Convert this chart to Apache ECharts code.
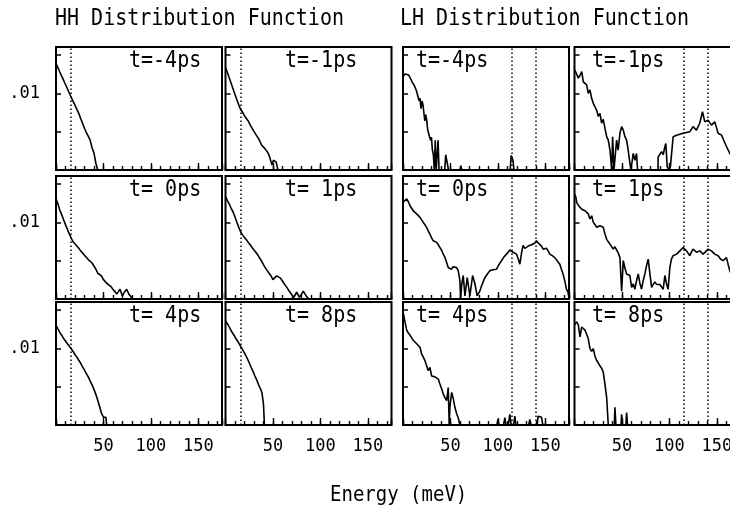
<!DOCTYPE html>
<html><head><meta charset="utf-8">
<script src="https://cdn.jsdelivr.net/npm/echarts@6/dist/echarts.min.js"></script>
<style>html,body{margin:0;padding:0;background:#fff}#c{width:730px;height:512px}</style>
</head><body><div id="c"></div>
<script>
// ---- data: [energy (meV), distribution function] ----
const hhMinus4 = [[0,0.060],[2,0.047],[4,0.036],[6,0.028],[8,0.022],[10,0.017],[12,0.0132],[14,0.0102],[16,0.0079],[18,0.0062],[20,0.0049],[22,0.0038],[24,0.0030],[26,0.0022],[28,0.00166],[30,0.00123],[32,0.00095],[34,0.00076],[36,0.00060],[38,0.00038],[40,0.00028],[42,0.00015],[44,0.0001]];
const hhMinus1 = [[0,0.048],[2,0.035],[4,0.025],[6,0.018],[8,0.0129],[10,0.0093],[12,0.0068],[14,0.0050],[16,0.0038],[18,0.0032],[20,0.0026],[22,0.0022],[24,0.0019],[26,0.0015],[28,0.00123],[30,0.00102],[32,0.00085],[34,0.00071],[36,0.00058],[38,0.00045],[40,0.00040],[42,0.00035],[44,0.00030],[46,0.00024],[47,0.00022],[49,0.000135],[50.5,0.00018],[52,0.000166],[53.5,0.00016],[55,0.000107],[56,0.0001]];
const hhZero = [[0,0.042],[2,0.030],[4,0.021],[6,0.0158],[8,0.0117],[10,0.0087],[12,0.0066],[14,0.0050],[16,0.0039],[18,0.0031],[20,0.0028],[22,0.0024],[24,0.0021],[26,0.0018],[28,0.00158],[30,0.00138],[32,0.00123],[34,0.00107],[36,0.00098],[38,0.00087],[40,0.00078],[42,0.00060],[44,0.00047],[46,0.00042],[48,0.00040],[50,0.00032],[52,0.00030],[54,0.00025],[56,0.00023],[58,0.00021],[60,0.00018],[62,0.000158],[64,0.000135],[66,0.000158],[67.5,0.00018],[70,0.00012],[72,0.00015],[74.5,0.00018],[77,0.000132],[78,0.00012],[81,0.0001]];
const hhPlus1 = [[0,0.047],[2,0.037],[4,0.030],[6,0.023],[8,0.0186],[10,0.0138],[12,0.0100],[14,0.0074],[16,0.0056],[18,0.0047],[20,0.0040],[22,0.0035],[24,0.0030],[26,0.0026],[28,0.0022],[30,0.0019],[32,0.00166],[34,0.00141],[36,0.00117],[38,0.00098],[40,0.00079],[42,0.00065],[44,0.00055],[46,0.00049],[48,0.00040],[50,0.00032],[52,0.00035],[54,0.00040],[56,0.00041],[58,0.00035],[61,0.00027],[64,0.00021],[68,0.00015],[72,0.00011],[75,0.00015],[78,0.00011],[82,0.00016],[85.5,0.000115],[88,0.0001]];
const hhPlus4 = [[0,0.040],[2,0.032],[4,0.026],[6,0.022],[8,0.018],[10,0.0155],[12,0.0132],[14,0.0115],[16,0.0098],[18,0.0083],[20,0.0069],[22,0.0059],[24,0.0049],[26,0.0041],[28,0.0033],[30,0.0027],[32,0.0022],[34,0.0018],[36,0.00141],[38,0.00112],[40,0.00085],[42,0.00063],[44,0.00044],[46,0.00030],[48,0.00020],[50,0.00016],[52.5,0.00016],[53.5,0.0001]];
const hhPlus8 = [[0,0.052],[1.5,0.050],[3,0.040],[5,0.032],[7,0.026],[9,0.022],[11,0.018],[13,0.0151],[15,0.0123],[17,0.0102],[19,0.0083],[21,0.0068],[23,0.0054],[25,0.0042],[27,0.0032],[29,0.0025],[31,0.0019],[33,0.00148],[35,0.00110],[37,0.00087],[38.5,0.00068],[40,0.00035],[40.5,0.0002],[41,0.0001]];

const lhMinus4 = [[0,0.027],[2,0.032],[4,0.034],[6,0.030],[8,0.024],[10,0.019],[12,0.0158],[14,0.0120],[16,0.0079],[17,0.0063],[18,0.0074],[19,0.0040],[20,0.0063],[21,0.0052],[22,0.0050],[23,0.0019],[24,0.0028],[25,0.0020],[26,0.00112],[27,0.00126],[28,0.0010],[29,0.0006],[30,0.00071],[31,0.00033],[32,0.00025],[33,0.0001],[34,0.0006],[35,0.0001],[36.5,0.0001],[37,0.0006],[38,0.0001],[44,0.0001],[45,0.00025],[47,0.00024],[48,0.0001],[60,0.0001],[61,0.00013],[62,0.0001],[113,0.0001],[114,0.00024],[116,0.00018],[117,0.0001],[175,0.0001]];
const lhMinus1 = [[0,0.041],[2,0.033],[4,0.025],[6,0.030],[7.6,0.037],[9.3,0.020],[11,0.019],[12.8,0.0166],[14.5,0.0100],[16.3,0.0123],[18.1,0.0074],[19.8,0.0055],[21.5,0.0050],[23.4,0.0036],[25,0.0025],[26.8,0.0030],[28.6,0.00166],[30.3,0.0021],[32.1,0.00123],[33.9,0.00074],[35.6,0.00060],[37.4,0.00033],[39.2,0.0001],[40.2,0.00074],[41.6,0.0001],[44.4,0.0006],[46,0.00033],[47.9,0.00091],[49.7,0.00135],[51.4,0.00110],[53.2,0.00074],[54.9,0.0006],[56.6,0.00033],[58.4,0.00015],[59.5,0.0001],[61.9,0.00027],[63.7,0.00018],[65.4,0.00027],[66.5,0.0001],[88,0.0001],[88.2,0.00022],[91.8,0.00030],[93.5,0.00025],[95.3,0.00041],[96.3,0.00049],[97.7,0.000123],[99.4,0.0001],[101.1,0.000123],[104,0.00074],[107.6,0.00081],[114.5,0.00091],[121.6,0.0010],[125,0.00135],[128.6,0.0011],[132,0.00166],[134.9,0.0033],[137.4,0.0018],[140.8,0.0020],[144.4,0.00148],[147.9,0.0018],[151.4,0.00091],[155,0.00081],[160.2,0.00041],[163.7,0.00027],[170,0.00016],[175,0.00011]];
const lhZero = [[0,0.033],[2,0.037],[3.9,0.041],[5.5,0.035],[7.4,0.027],[9,0.025],[10.8,0.020],[12.6,0.019],[14.4,0.0166],[16,0.0150],[17.9,0.0135],[19.6,0.0120],[21.4,0.0100],[23,0.0092],[24.9,0.0074],[26.6,0.0060],[28.4,0.0049],[30,0.0040],[31.9,0.0033],[33.7,0.0031],[35.5,0.0030],[37.2,0.0026],[38.9,0.0022],[40.6,0.0019],[42.4,0.00148],[44,0.00126],[46,0.00089],[47.7,0.00066],[49.3,0.00072],[51,0.00060],[52.9,0.00069],[54.7,0.00068],[56.5,0.00066],[58.2,0.00055],[60,0.00030],[60.7,0.0001],[62,0.00025],[63.5,0.00041],[65.3,0.00012],[67.7,0.00036],[70.5,0.00012],[73.4,0.00041],[75.8,0.00025],[78.2,0.00012],[81,0.00016],[82.8,0.00022],[86.3,0.00036],[89,0.00045],[91.6,0.00055],[95,0.00058],[98.6,0.0006],[101,0.00078],[103.9,0.0010],[106.5,0.00126],[109.2,0.00148],[112.6,0.0019],[114.4,0.0018],[116.1,0.00166],[118,0.00158],[119.7,0.00148],[121.5,0.0011],[123.2,0.00081],[125,0.0016],[126.6,0.0025],[128.4,0.0021],[130.2,0.0022],[132,0.0024],[133.7,0.0027],[135.5,0.0026],[137.2,0.0025],[139,0.0029],[140.7,0.0033],[142.5,0.0029],[144.2,0.0027],[146,0.0024],[147.7,0.0020],[149.5,0.0022],[151.3,0.0021],[153,0.0018],[154.7,0.00148],[157.3,0.00135],[160,0.0012],[162.7,0.00098],[165.3,0.00081],[167,0.0006],[168.7,0.00045],[170.5,0.0003],[172.3,0.00018],[174,0.00015],[175,0.0001]];
const lhPlus1 = [[0,0.055],[1.5,0.045],[2.3,0.033],[4,0.028],[5.8,0.030],[7.6,0.022],[9.3,0.021],[11.1,0.020],[12.8,0.018],[14.5,0.0166],[16.3,0.0123],[18.1,0.0148],[19.8,0.0100],[21.6,0.0088],[23.4,0.0074],[25,0.0078],[26.8,0.0081],[28.6,0.0078],[30.3,0.0074],[32.1,0.0050],[33.9,0.0036],[35.6,0.0031],[37.4,0.0027],[39.2,0.0030],[40.8,0.0020],[42.6,0.0023],[44.4,0.0025],[46.2,0.00158],[47.9,0.00120],[49.7,0.00016],[51.4,0.0010],[53,0.00066],[54.9,0.00045],[56.6,0.00043],[58.4,0.00041],[60.2,0.00020],[61.9,0.00025],[63.7,0.00018],[65.4,0.00030],[67.2,0.00045],[69,0.00025],[70.7,0.00018],[72.4,0.00030],[74.2,0.00045],[76,0.00075],[77.7,0.0011],[79.5,0.00045],[81.3,0.00020],[83,0.00024],[84.7,0.00028],[86.5,0.00024],[88.2,0.00022],[90,0.00024],[91.8,0.00025],[93.5,0.00018],[95.3,0.00041],[97,0.00025],[98.7,0.00018],[100.5,0.00066],[102.2,0.00110],[104,0.00135],[105.8,0.00141],[107.6,0.00148],[109.4,0.0016],[111.1,0.0018],[112.8,0.0020],[114.5,0.0022],[116.3,0.0020],[118.1,0.0018],[119.9,0.0016],[121.6,0.00135],[123.3,0.0017],[125,0.0020],[126.8,0.0018],[128.6,0.00166],[130.3,0.0017],[132.1,0.0018],[133.8,0.0016],[135.6,0.00148],[138,0.0017],[140.8,0.0020],[142.6,0.0019],[144.4,0.0018],[146.2,0.0016],[147.9,0.00148],[149.6,0.0014],[151.4,0.00135],[154,0.0011],[156.6,0.0010],[158.4,0.0011],[160.2,0.0012],[161.9,0.00081],[163.7,0.00055],[166,0.0004],[168,0.0003],[171,0.0002],[175,0.00015]];
const lhPlus4 = [[0,0.091],[2.1,0.049],[3.9,0.030],[5.6,0.025],[7.4,0.022],[9,0.019],[10.8,0.0162],[12.6,0.0150],[14.4,0.0132],[16,0.0120],[17.9,0.0107],[19.6,0.0072],[21.4,0.0059],[23.1,0.0048],[24.9,0.0044],[26.6,0.0026],[28.4,0.0032],[30.2,0.0019],[32,0.0018],[33.7,0.0018],[35.5,0.0017],[37.2,0.00158],[38.9,0.00117],[40.6,0.00090],[42.4,0.00065],[44.2,0.00052],[46,0.00043],[47.7,0.00095],[48.7,0.0001],[49.5,0.0003],[51.3,0.00071],[52.9,0.00050],[54.7,0.00029],[56.5,0.00020],[58.2,0.000155],[60,0.0001],[99,0.0001],[100,0.00014],[101,0.0001],[106,0.0001],[107.4,0.000155],[108.5,0.0001],[111,0.0001],[112.6,0.00019],[114,0.0001],[116.5,0.0001],[117.9,0.00017],[119,0.0001],[132.5,0.0001],[133.7,0.00014],[135,0.0001],[141.5,0.0001],[142.4,0.00017],[146,0.00016],[147.4,0.0001],[175,0.0001]];
const lhPlus8 = [[0,0.041],[1.5,0.045],[2.3,0.049],[4,0.041],[5.8,0.020],[7.6,0.036],[9.3,0.033],[11,0.030],[12.8,0.027],[14.5,0.018],[16.3,0.0098],[18.1,0.0083],[19.8,0.0098],[21.6,0.0062],[23.4,0.0048],[25,0.0042],[26.8,0.0035],[28.6,0.0030],[30.3,0.0024],[32.1,0.00117],[33.9,0.00052],[35.6,0.0001],[42,0.0001],[42.6,0.00029],[43.7,0.0001],[49,0.0001],[49.7,0.00019],[50.5,0.0001],[54.2,0.0001],[54.9,0.00021],[56,0.0001],[175,0.0001]];

const panelData = [
  [hhMinus4, hhMinus1, lhMinus4, lhMinus1],
  [hhZero,   hhPlus1,  lhZero,   lhPlus1],
  [hhPlus4,  hhPlus8,  lhPlus4,  lhPlus8]
];
const panelLabels = [
  ['t=-4ps','t=-1ps','t=-4ps','t=-1ps'],
  ['t= 0ps','t= 1ps','t= 0ps','t= 1ps'],
  ['t= 4ps','t= 8ps','t= 4ps','t= 8ps']
];
const hhMarkers = [16];
const lhMarkers = [115, 140];
const xTickLabels = [50, 100, 150];
const yTickLabel = 0.01;
const titles = ['HH Distribution Function', 'LH Distribution Function'];
const xAxisName = 'Energy (meV)';

// ---- layout ----
const colLeft = [56, 225.5, 403, 574.5];
const rowTop = [47, 176, 302];
const W = 166, H = 123;
const labelX = [129, 285, 416, 592];
const FONT = '"DejaVu Sans Mono", "Liberation Mono", monospace';

const grid = [], xAxis = [], yAxis = [], series = [], graphic = [];
let g = 0;
for (let r = 0; r < 3; r++) {
  for (let c = 0; c < 4; c++) {
    grid.push({left: colLeft[c], top: rowTop[r], width: W, height: H, show: true,
      borderColor: '#000', borderWidth: 2, backgroundColor: 'transparent',
      containLabel: false, outerBoundsMode: 'none'});
    xAxis.push({type: 'value', gridIndex: g, min: 0, max: 175, interval: 10, position: 'bottom',
      axisLine: {show: false}, splitLine: {show: false}, axisLabel: {show: false},
      axisTick: {show: true, inside: true, length: 4, lineStyle: {color: '#000', width: 1.4}}});
    xAxis.push({type: 'value', gridIndex: g, min: 0, max: 175, interval: 50, position: 'bottom',
      axisLine: {show: false}, splitLine: {show: false},
      axisTick: {show: true, inside: true, length: 7, lineStyle: {color: '#000', width: 1.4}},
      axisLabel: {show: r === 2, margin: 13, color: '#000', fontFamily: FONT, fontSize: 17,
        formatter: v => xTickLabels.indexOf(Math.round(v)) >= 0 ? String(Math.round(v)) : ''}});
    yAxis.push({type: 'log', logBase: 10, gridIndex: g, min: 0.0001, max: 0.1617,
      axisLine: {show: false}, splitLine: {show: false},
      axisTick: {show: true, inside: true, length: 5, lineStyle: {color: '#000', width: 1.5}},
      axisLabel: {show: c === 0, margin: 16, color: '#000', fontFamily: FONT, fontSize: 17,
        formatter: v => Math.abs(Math.log10(v) - Math.log10(yTickLabel)) < 1e-6 ? '.01' : ''}});
    const markers = c < 2 ? hhMarkers : lhMarkers;
    series.push({type: 'line', xAxisIndex: 2 * g, yAxisIndex: g, data: panelData[r][c],
      showSymbol: false, symbol: 'none', clip: true, animation: false, silent: true,
      lineStyle: {color: '#000', width: 1.6},
      markLine: {silent: true, symbol: ['none', 'none'], animation: false, label: {show: false},
        lineStyle: {color: '#000', width: 1.5, type: [1.5, 2.5]},
        data: markers.map(m => ({xAxis: m}))}});
    graphic.push({type: 'text', left: labelX[c], top: rowTop[r] + 3, scaleY: 1.15, silent: true,
      style: {text: panelLabels[r][c], fill: '#000', font: '20px ' + FONT}});
    g++;
  }
}
graphic.push({type: 'text', left: 55, top: 8, scaleY: 1.15, silent: true, style: {text: titles[0], fill: '#000', font: '20px ' + FONT}});
graphic.push({type: 'text', left: 400, top: 8, scaleY: 1.15, silent: true, style: {text: titles[1], fill: '#000', font: '20px ' + FONT}});
graphic.push({type: 'text', left: 330, top: 485, scaleY: 1.1, silent: true, style: {text: xAxisName, fill: '#000', font: '19px ' + FONT}});

const chart = echarts.init(document.getElementById('c'), null, {renderer: 'canvas'});
chart.setOption({animation: false, backgroundColor: '#fff', grid, xAxis, yAxis, series, graphic});
</script></body></html>
